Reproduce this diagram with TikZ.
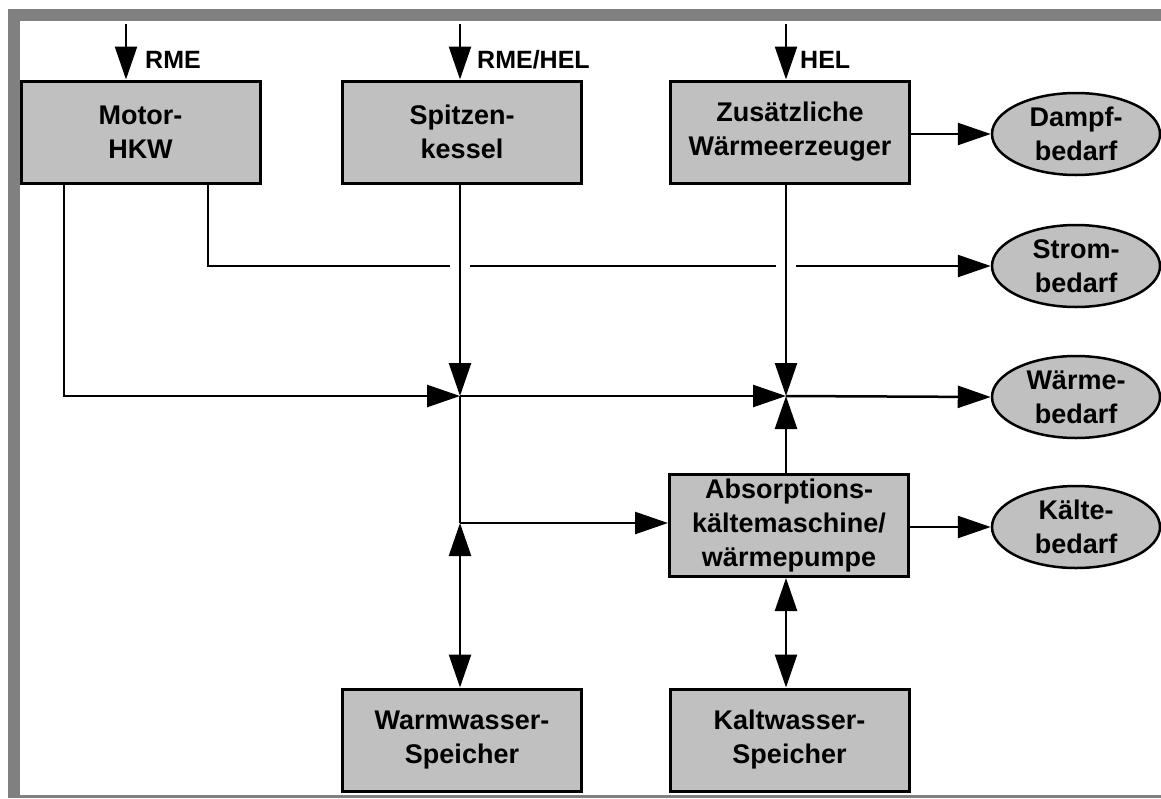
\documentclass[tikz,border=0pt]{standalone}
\usepackage{fontspec}
\setmainfont{Liberation Sans}
\usetikzlibrary{arrows.meta,calc,shapes.geometric}
\definecolor{boxfill}{HTML}{C0C0C0}
\definecolor{framegray}{HTML}{808080}
\begin{document}
\begin{tikzpicture}[x=1pt,y=-1pt,
  every node/.style={font=\fontsize{27}{34}\selectfont\bfseries, align=center, inner sep=0pt},
  unitbox/.style={draw=black, line width=3pt, fill=boxfill, minimum width=239pt, minimum height=102pt},
  demand/.style={ellipse, draw=black, line width=2.5pt, fill=boxfill, minimum width=168pt, minimum height=82pt},
  fuel/.style={font=\fontsize{25}{29}\selectfont\bfseries, anchor=base west},
  flow/.style={line width=2.5pt},
  tip/.style={Triangle[length=33pt,width=22pt]},
  arr/.style={flow, -{Triangle[length=33pt,width=22pt]}},
  darr/.style={flow, {Triangle[length=33pt,width=22pt]}-{Triangle[length=33pt,width=22pt]}}
]
% canvas and frame
\useasboundingbox (0,0) rectangle (1161,798);
\fill[white] (0,0) rectangle (1161,798);
\fill[framegray] (8,9) rectangle (1161,21);
\fill[framegray] (8,9) rectangle (20,798);
\fill[framegray] (8,795) rectangle (1161,798);

% plant units
\node[unitbox] (motor) at (140.5,132) {Motor-\\HKW};
\node[unitbox] (spitz) at (462,132) {Spitzen-\\kessel};
\node[unitbox] (zus) at (790,132) {Zusätzliche\\Wärmeerzeuger};
\node[unitbox] (absorb) at (789,525.5) {Absorptions-\\kältemaschine/\\wärmepumpe};
\node[unitbox] (warm) at (462,740) {Warmwasser-\\Speicher};
\node[unitbox] (kalt) at (789.5,740) {Kaltwasser-\\Speicher};

% demands
\node[demand] (dampf) at (1076,134) {Dampf-\\bedarf};
\node[demand] (strom) at (1076,266) {Strom-\\bedarf};
\node[demand] (waerme) at (1076,397) {Wärme-\\bedarf};
\node[demand] (kaelte) at (1076,527) {Kälte-\\bedarf};

% fuel inputs
\coordinate (in1) at (126,24);
\coordinate (in2) at (460,24);
\coordinate (in3) at (786,24);
\draw[arr] (in1) -- (in1 |- motor.north);
\draw[arr] (in2) -- (in2 |- spitz.north);
\draw[arr] (in3) -- (in3 |- zus.north);
\node[fuel] (l1) at (145,68) {RME};
\node[fuel] (l2) at (477,68) {RME/HEL};
\node[fuel] (l3) at (800,68) {HEL};

% junctions
\coordinate (ml) at (64,396);
\coordinate (mr) at (208,265);
\coordinate (j1) at (460,396);
\coordinate (j2) at (786,396);
\coordinate (j3) at (460,523);

% electricity line, with gaps where the heat lines cross it
\draw[arr] (motor.south -| mr) |- (strom.west);
\fill[white] ($(j1 |- mr)+(-10,-4)$) rectangle ($(j1 |- mr)+(10,4)$);
\fill[white] ($(j2 |- mr)+(-10,-4)$) rectangle ($(j2 |- mr)+(10,4)$);

% heat network
\draw[arr] (motor.south -| ml) |- (j1);
\draw[arr] (spitz.south -| j1) -- (j1);
\draw[flow] (j1) -- (j3);
\draw[arr] (j1) -- (j2);
\draw[arr] (zus.south -| j2) -- (j2);
\draw[arr] (absorb.north -| j2) -- (j2);
\draw[arr] (j2) -- (waerme.west);
\draw[arr] (j3) -- (j3 -| absorb.west);
\draw[darr] (warm.north -| j3) -- (j3);
\draw[darr] (absorb.south -| j2) -- (kalt.north -| j2);

% steam and cooling
\draw[arr] (zus.east |- dampf.west) -- (dampf.west);
\draw[arr] (absorb.east |- kaelte.west) -- (kaelte.west);
\end{tikzpicture}
\end{document}
